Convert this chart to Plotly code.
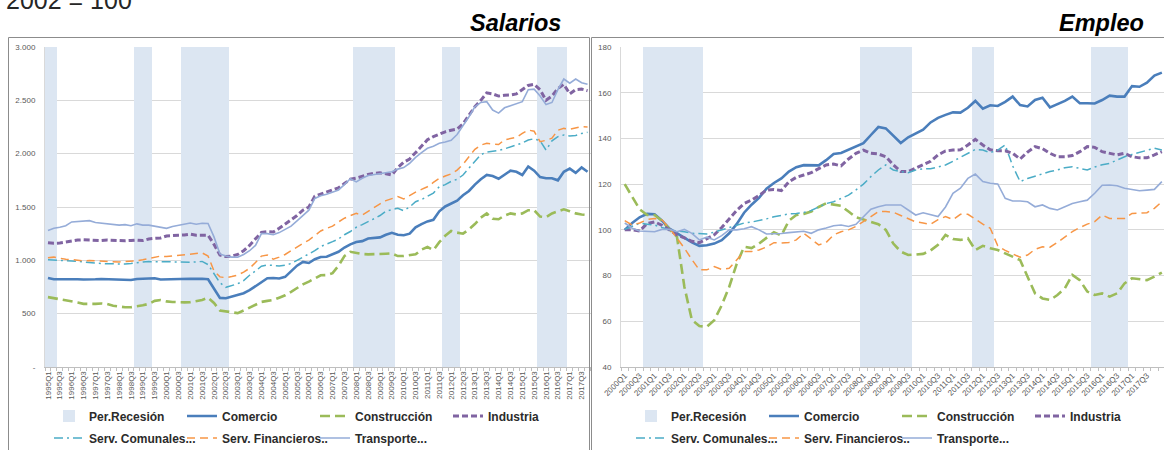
import plotly.graph_objects as go

W, H = 1164, 450

# ---------------- Salarios (left panel) : 1995Q1 .. 2017Q4 ----------------
sal_quarters = [f"{y}Q{q}" for y in range(1995, 2018) for q in range(1, 5)]

sal_recession = [1, 1,
                 0, 0, 0, 0, 0, 0, 0, 0, 0, 0, 0, 0, 0,
                 1, 1, 1,
                 0, 0, 0, 0, 0,
                 1, 1, 1, 1, 1, 1, 1, 1,
                 0, 0, 0, 0, 0, 0, 0, 0, 0, 0, 0, 0, 0, 0, 0, 0, 0, 0, 0, 0, 0,
                 1, 1, 1, 1, 1, 1, 1,
                 0, 0, 0, 0, 0, 0, 0, 0,
                 1, 1, 1,
                 0, 0, 0, 0, 0, 0, 0, 0, 0, 0, 0, 0, 0,
                 1, 1, 1, 1, 1,
                 0, 0, 0, 0]

sal_comercio = [835, 822, 822, 824, 822, 823, 820, 818, 822, 825,
                822, 820, 815, 812, 815, 825, 828, 830, 832, 820,
                822, 828, 826, 828, 828, 826, 828, 822, 737, 648,
                645, 660, 672, 692, 720, 760, 800, 832, 835, 830,
                845, 900, 950, 985, 975, 1010, 1032, 1034, 1055, 1080,
                1120, 1150, 1172, 1180, 1205, 1210, 1215, 1240, 1258, 1240,
                1235, 1250, 1310, 1340, 1365, 1380, 1460, 1505, 1530, 1560,
                1610, 1650, 1710, 1760, 1800, 1790, 1765, 1805, 1840, 1830,
                1800, 1880, 1840, 1780, 1770, 1770, 1750, 1830, 1860, 1820,
                1870, 1830]

sal_construccion = [655, 645, 640, 630, 615, 605, 592, 590, 592, 596,
                    590, 575, 565, 560, 560, 568, 578, 592, 620, 628,
                    615, 610, 605, 606, 608, 615, 628, 650, 600, 530,
                    520, 510, 505, 530, 555, 580, 610, 620, 628, 650,
                    672, 705, 740, 775, 800, 830, 860, 862, 880, 950,
                    1040, 1080, 1068, 1060, 1056, 1060, 1065, 1062, 1065, 1040,
                    1040, 1050, 1056, 1100, 1125, 1096, 1170, 1230, 1275, 1260,
                    1250, 1290, 1340, 1400, 1440, 1390, 1385, 1420, 1440, 1430,
                    1440, 1470, 1470, 1410, 1405, 1440, 1460, 1478, 1460, 1440,
                    1430, 1425]

sal_industria = [1165, 1160, 1162, 1170, 1185, 1190, 1192, 1190, 1182, 1185,
                 1190, 1188, 1180, 1183, 1186, 1190, 1185, 1200, 1206, 1210,
                 1228, 1235, 1235, 1238, 1245, 1235, 1238, 1235, 1150, 1050,
                 1035, 1040, 1055, 1090, 1140, 1200, 1262, 1268, 1265, 1300,
                 1340, 1380, 1420, 1470, 1500, 1600, 1620, 1640, 1660, 1680,
                 1720, 1760, 1770, 1790, 1805, 1815, 1820, 1812, 1800, 1870,
                 1920, 1950, 2010, 2070, 2130, 2160, 2185, 2205, 2220, 2230,
                 2280, 2360, 2440, 2500, 2570, 2560, 2540, 2548, 2550, 2560,
                 2600, 2640, 2650, 2600, 2500, 2540, 2610, 2650, 2560, 2600,
                 2605, 2590]

sal_comunales = [1005, 1003, 1000, 998, 997, 990, 985, 978, 972, 970,
                 968, 965, 962, 965, 970, 980, 985, 988, 990, 985,
                 987, 985, 982, 980, 982, 985, 990, 960, 870, 790,
                 747, 760, 780, 810, 860, 900, 945, 956, 950, 948,
                 955, 970, 1000, 1030, 1060, 1090, 1130, 1150, 1175, 1200,
                 1240, 1270, 1310, 1335, 1360, 1390, 1420, 1460, 1475, 1487,
                 1465, 1500, 1550, 1570, 1600, 1630, 1690, 1710, 1740, 1760,
                 1800, 1860, 1920, 1990, 2015, 2020, 2030, 2045, 2065, 2081,
                 2100, 2128, 2140, 2120, 2034, 2120, 2160, 2175, 2165, 2170,
                 2190, 2200]

sal_financieros = [1025, 1030, 1020, 1010, 1008, 1000, 995, 998, 995, 988,
                   985, 982, 985, 988, 990, 995, 1005, 1018, 1030, 1040,
                   1035, 1040, 1045, 1050, 1055, 1060, 1070, 1040, 900, 845,
                   837, 848, 862, 890, 925, 980, 1040, 1050, 1010, 1030,
                   1055, 1090, 1128, 1160, 1190, 1230, 1275, 1300, 1320, 1360,
                   1395, 1420, 1440, 1425, 1460, 1500, 1530, 1560, 1580, 1597,
                   1575, 1610, 1640, 1665, 1690, 1730, 1768, 1790, 1810, 1846,
                   1900, 1971, 2040, 2080, 2097, 2090, 2085, 2130, 2145, 2153,
                   2190, 2222, 2210, 2112, 2125, 2145, 2220, 2237, 2228, 2240,
                   2253, 2250]

sal_transporte = [1280, 1300, 1310, 1325, 1360, 1362, 1368, 1372, 1355, 1350,
                  1345, 1335, 1330, 1335, 1325, 1342, 1330, 1330, 1318, 1305,
                  1300, 1318, 1330, 1345, 1350, 1338, 1348, 1345, 1220, 1060,
                  1040, 1030, 1030, 1055, 1090, 1140, 1250, 1250, 1240, 1260,
                  1290, 1320, 1370, 1420, 1470, 1580, 1605, 1620, 1640, 1660,
                  1710, 1765, 1735, 1770, 1795, 1805, 1812, 1825, 1830, 1855,
                  1870, 1910, 1965, 2010, 2050, 2070, 2097, 2110, 2125, 2180,
                  2260, 2346, 2440, 2480, 2487, 2409, 2380, 2430, 2450, 2470,
                  2487, 2600, 2605, 2540, 2460, 2480, 2600, 2700, 2660, 2700,
                  2665, 2650]

sal_yticks = [0, 500, 1000, 1500, 2000, 2500, 3000]
sal_yticktext = ["-", "500", "1.000", "1.500", "2.000", "2.500", "3.000"]
sal_ymax = 3000

# ---------------- Empleo (right panel) : 2000Q1 .. 2018Q1 ----------------
emp_quarters = [f"{y}Q{q}" for y in range(2000, 2019) for q in range(1, 5)][:73]

emp_recession = [0, 0, 0,
                 1, 1, 1, 1, 1, 1, 1, 1,
                 0, 0, 0, 0, 0, 0, 0, 0, 0, 0, 0, 0, 0, 0, 0, 0, 0, 0, 0, 0, 0,
                 1, 1, 1, 1, 1, 1, 1,
                 0, 0, 0, 0, 0, 0, 0, 0,
                 1, 1, 1,
                 0, 0, 0, 0, 0, 0, 0, 0, 0, 0, 0, 0, 0,
                 1, 1, 1, 1, 1,
                 0, 0, 0, 0, 0]

emp_comercio = [100, 103, 105.5, 107, 106.8, 104, 100.5, 98.5, 96.5, 94.5,
                93, 93.3, 94, 95.5, 98.5, 102.5, 107.5, 111, 114, 118,
                120.5, 122.5, 125.5, 127.4, 128.3, 128.4, 128.2, 130.5, 133.2, 133.6,
                135, 136.5, 137.9, 141.5, 145, 144.4, 141, 138, 140.5, 142,
                143.8, 147, 149, 150.3, 151.4, 151.3, 153.4, 156.4, 153, 154.5,
                154.2, 156, 158.3, 154.6, 154, 156.8, 157.8, 153.6, 155, 156.4,
                158.3, 155.4, 155.4, 155.3, 156.8, 158.7, 158.3, 158.3, 162.9, 162.6,
                164.4, 167.5, 168.8]

emp_construccion = [120, 114.5, 109, 106.5, 106.5, 104, 100.2, 97, 75, 60.6,
                    57.9, 57.6, 60.5, 67, 75, 85, 92.6, 92, 94, 96.5,
                    99, 97.5, 104, 106.5, 107, 108, 110, 111.6, 111, 110.5,
                    108, 105.5, 104.5, 103.5, 102.5, 100, 94, 90.5, 89, 89.2,
                    89.5, 91, 93.5, 97.8, 96, 95.6, 96.3, 91.2, 93, 92,
                    91.2, 89.7, 88.3, 86.8, 79.5, 72.2, 70, 69.3, 71.5, 74.4,
                    80.3, 78, 73, 71.5, 72.2, 70.8, 72.2, 76.6, 78.8, 78.5,
                    78, 79.5, 81.3]

emp_industria = [100, 100, 99.5, 102.8, 103.5, 102, 100, 97.8, 96.5, 95,
                 94.4, 96, 97.8, 101, 105, 108.5, 111.5, 113, 115, 117.4,
                 117.7, 117.2, 121, 123, 124, 125, 126.8, 128.4, 128.8, 128,
                 131, 133.5, 134.9, 133.5, 133.2, 132, 128.4, 125.5, 125.5, 127,
                 128.5, 130, 132.8, 134.5, 134.9, 135, 137.1, 139.6, 137.1, 135,
                 134.6, 134.6, 133.5, 131, 134, 136.4, 135.5, 133.5, 132, 132,
                 132.5, 134.2, 136.4, 136.1, 134.2, 133.5, 132.8, 133.5, 132, 131.5,
                 131.5, 132.8, 134.2]

emp_comunales = [100.2, 101.5, 102.9, 102.5, 102.1, 101, 100, 99.5, 99.2, 98.5,
                 98.2, 98.2, 99, 100, 100.8, 102, 103, 103.4, 104, 104.8,
                 105.7, 106.5, 107, 107.2, 107.6, 108.5, 110, 111.5, 112.3, 113.8,
                 115.2, 117.5, 120, 123.3, 126.2, 128.4, 126.2, 125.5, 125, 126.2,
                 126.7, 126.7, 127.5, 128.4, 130, 131.8, 133.5, 135.2, 134.9, 133.8,
                 134.9, 137.1, 128, 121.1, 122.5, 123.5, 124.7, 125.5, 126.2, 127.2,
                 127.6, 126.9, 126.2, 127.5, 128.5, 129.1, 130.6, 132, 133, 133.8,
                 134.9, 135.7, 134.9]

emp_financieros = [104, 102.1, 103, 104.5, 105, 104.3, 100.7, 96.3, 92, 87,
                   82.5, 82.5, 83.9, 82.7, 83.2, 86.8, 90.5, 90.5, 91.2, 92.5,
                   94.4, 94.2, 94.5, 95.6, 98.5, 96, 93.4, 94.5, 97.8, 99.2,
                   100, 101.5, 103.6, 106, 108, 108, 107.7, 106.3, 104.8, 103.5,
                   103, 102.4, 104.5, 105.8, 104.5, 106.8, 106.8, 104.5, 102.5, 100.7,
                   93, 91, 89.5, 88, 89, 91.5, 92.6, 92.4, 94.5, 97,
                   99.2, 101, 102.5, 103.6, 106.5, 105, 105, 105, 107.2, 107.2,
                   107.5, 109.4, 112.3]

emp_transporte = [103, 100.7, 99.5, 99.2, 99.2, 100.2, 100.2, 99.2, 100.2, 98.5,
                  95.6, 96.8, 95.6, 97.5, 100, 100, 100.5, 101.4, 100, 98.2,
                  98.2, 98.4, 98.8, 99.2, 99.4, 98.5, 100, 100.8, 101.8, 102.1,
                  101.5, 102.4, 105.5, 109, 110.1, 110.9, 110.9, 110.9, 108.7, 106.5,
                  107.5, 106.5, 105.8, 110, 116, 118.2, 122.5, 124.4, 121.1, 120.4,
                  120.1, 113.8, 112.6, 112.6, 112.3, 110.1, 110.9, 109.4, 108.7, 110.1,
                  111.5, 112.3, 113, 116, 119.5, 119.6, 119.3, 118.2, 117.7, 117.1,
                  117.4, 117.7, 121.1]

emp_yticks = [40, 60, 80, 100, 120, 140, 160, 180]
emp_yticktext = ["40", "60", "80", "100", "120", "140", "160", "180"]
emp_ymin, emp_ymax = 40, 180

# ---------------- styles ----------------
series_names = ["Comercio", "Construcción", "Industria",
                "Serv. Comunales...", "Serv. Financieros..", "Transporte..."]
series_styles = {
    "Comercio": dict(color="#4a7ebb", width=2.6, dash="solid"),
    "Construcción": dict(color="#9bbb59", width=2.6, dash="10px,5px"),
    "Industria": dict(color="#8064a2", width=3, dash="6px,3px"),
    "Serv. Comunales...": dict(color="#4bacc6", width=1.5, dash="9px,4px,2px,4px"),
    "Serv. Financieros..": dict(color="#f79646", width=1.5, dash="8px,5px"),
    "Transporte...": dict(color="#95acd8", width=1.6, dash="solid"),
}
row1 = ["Comercio", "Construcción", "Industria"]
RECESSION_COLOR = "#dce6f2"


def px(x):
    """window pixel x -> paper fraction"""
    return x / W


def py(y):
    """window pixel y -> paper fraction"""
    return 1 - y / H


fig = go.Figure()

panels = [
    dict(x="x", y="y", quarters=sal_quarters, rec=sal_recession, top=sal_ymax,
         base=0, legends=("legend", "legend2"),
         data=[sal_comercio, sal_construccion, sal_industria,
               sal_comunales, sal_financieros, sal_transporte]),
    dict(x="x2", y="y2", quarters=emp_quarters, rec=emp_recession, top=emp_ymax,
         base=emp_ymin, legends=("legend3", "legend4"),
         data=[emp_comercio, emp_construccion, emp_industria,
               emp_comunales, emp_financieros, emp_transporte]),
]

for p in panels:
    idx = list(range(len(p["quarters"])))
    fig.add_trace(go.Bar(
        x=idx, y=[(p["top"] - p["base"]) * r for r in p["rec"]], base=p["base"],
        width=1.0, marker=dict(color=RECESSION_COLOR, line=dict(width=0)),
        name="Per.Recesión", xaxis=p["x"], yaxis=p["y"], legend=p["legends"][0],
        hoverinfo="skip"))
    for name, vals in zip(series_names, p["data"]):
        st = series_styles[name]
        fig.add_trace(go.Scatter(
            x=idx, y=vals, mode="lines", name=name,
            line=dict(color=st["color"], width=st["width"], dash=st["dash"]),
            xaxis=p["x"], yaxis=p["y"],
            legend=p["legends"][0] if name in row1 else p["legends"][1],
            hoverinfo="skip"))

tickfont = dict(family="Liberation Sans", size=8, color="#595959")
xcommon = dict(showgrid=False, showline=True, linecolor="#bfbfbf", linewidth=1,
               ticks="", tickfont=tickfont, zeroline=False, fixedrange=True,
               minor=dict(ticks="outside", ticklen=3, tickcolor="#bfbfbf",
                          tickmode="linear", tick0=-0.5, dtick=1, showgrid=False))
ycommon = dict(showgrid=True, gridcolor="#d9d9d9", gridwidth=1, showline=True,
               linecolor="#d9d9d9", ticks="", tickfont=tickfont, zeroline=False,
               ticklabelstandoff=7, fixedrange=True)

legfont = dict(family="Liberation Sans", size=12, color="#2b2b2b", weight="bold")
legcommon = dict(orientation="h", entrywidth=88, entrywidthmode="pixels",
                 font=legfont, bgcolor="rgba(0,0,0,0)", xanchor="left",
                 yanchor="middle", traceorder="normal", itemclick=False,
                 itemdoubleclick=False)

fig.update_layout(
    width=W, height=H,
    margin=dict(l=0, r=0, t=0, b=0, autoexpand=False),
    paper_bgcolor="white", plot_bgcolor="white",
    barmode="overlay", bargap=0,
    xaxis=dict(domain=[px(45), px(590.5)], range=[-0.5, len(sal_quarters) - 0.5],
               tickmode="array", tickvals=list(range(0, len(sal_quarters), 2)),
               ticktext=sal_quarters[::2], tickangle=-90, anchor="y", **xcommon),
    yaxis=dict(domain=[py(367), py(47)], range=[0, sal_ymax], tickmode="array",
               tickvals=sal_yticks, ticktext=sal_yticktext, anchor="x", **ycommon),
    xaxis2=dict(domain=[px(621), 1.0],
                range=[-0.5, -0.5 + (W - 621) / 7.46],
                tickmode="array", tickvals=list(range(0, len(emp_quarters), 2)),
                ticktext=emp_quarters[::2], tickangle=-45, anchor="y2", **xcommon),
    yaxis2=dict(domain=[py(367), py(47)], range=[emp_ymin, emp_ymax], tickmode="array",
                tickvals=emp_yticks, ticktext=emp_yticktext, anchor="x2", **ycommon),
    legend=dict(x=px(49), y=py(416), **legcommon),
    legend2=dict(x=px(49), y=py(438), **legcommon),
    legend3=dict(x=px(631), y=py(416), **legcommon),
    legend4=dict(x=px(631), y=py(438), **legcommon),
    shapes=[
        dict(type="rect", xref="paper", yref="paper", x0=px(8.5), x1=px(589.5),
             y0=py(470), y1=py(37.5), line=dict(color="#8c8c8c", width=1),
             fillcolor="rgba(0,0,0,0)", layer="above"),
        dict(type="rect", xref="paper", yref="paper", x0=px(591.5), x1=px(1185),
             y0=py(470), y1=py(37.5), line=dict(color="#8c8c8c", width=1),
             fillcolor="rgba(0,0,0,0)", layer="above"),
    ],
    annotations=[
        dict(text="<b><i>Salarios</i></b>", x=px(563), y=py(23), xref="paper",
             yref="paper", xanchor="right", yanchor="middle", showarrow=False,
             font=dict(family="Liberation Sans", size=23.5, color="#000000")),
        dict(text="<b><i>Empleo</i></b>", x=px(1146), y=py(23), xref="paper",
             yref="paper", xanchor="right", yanchor="middle", showarrow=False,
             font=dict(family="Liberation Sans", size=23.5, color="#000000")),
        dict(text="2002 = 100", x=px(4), y=py(16), xref="paper", yref="paper",
             xanchor="left", yanchor="bottom", showarrow=False,
             font=dict(family="Liberation Sans", size=25, color="#262626")),
    ],
)

# remove the browser's default 8px page margin so the figure fills the window
fig.write_html("out.html",
               config={"displayModeBar": False, "staticPlot": False},
               post_script="document.body.style.margin='0';"
                           "document.body.style.overflow='hidden';")
